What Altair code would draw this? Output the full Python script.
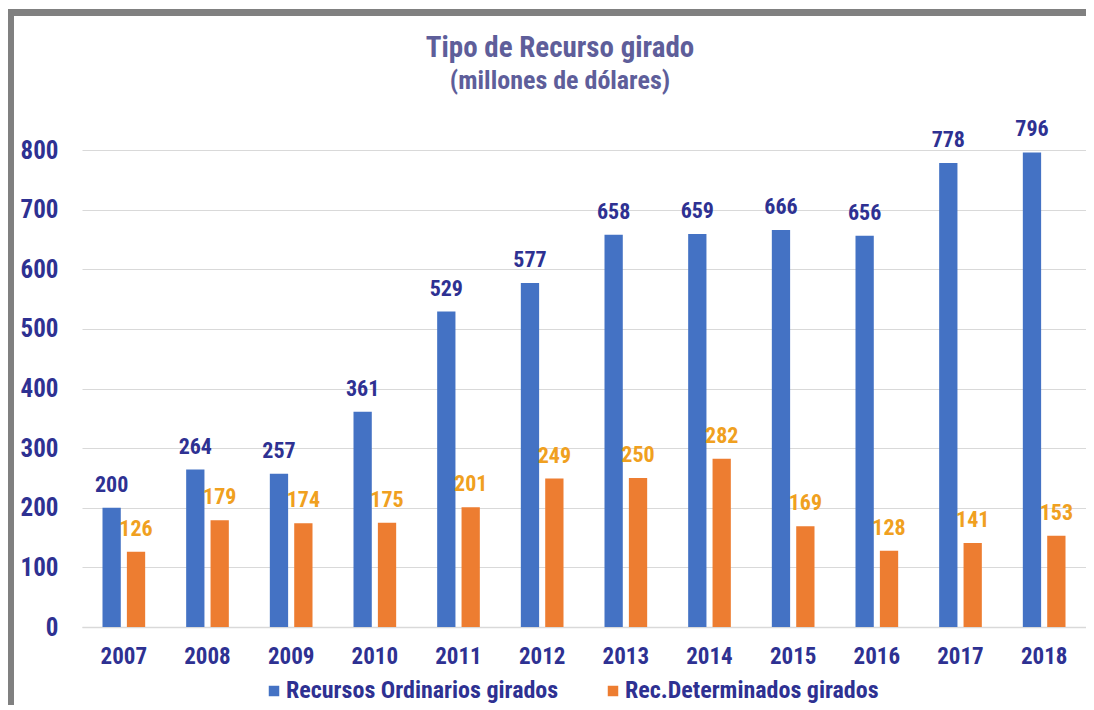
import altair as alt
import pandas as pd

years = ["2007", "2008", "2009", "2010", "2011", "2012", "2013", "2014", "2015", "2016", "2017", "2018"]
ordinarios = [200, 264, 257, 361, 529, 577, 658, 659, 666, 656, 778, 796]
determinados = [126, 179, 174, 175, 201, 249, 250, 282, 169, 128, 141, 153]
series = ["Recursos Ordinarios girados", "Rec.Determinados girados"]
y_ticks = [0, 100, 200, 300, 400, 500, 600, 700, 800]

rows = []
for i, yr in enumerate(years):
    rows.append({"year": yr, "serie": series[0], "value": ordinarios[i], "order": 0})
    rows.append({"year": yr, "serie": series[1], "value": determinados[i], "order": 1})
df = pd.DataFrame(rows)

FONT = "Liberation Sans Narrow, Arial Narrow, Roboto Condensed, Liberation Sans, sans-serif"
NAVY = "#2E3192"
BLUE = "#4472C4"
ORANGE = "#ED7D31"
ORANGE_TXT = "#F0A020"
TITLE_C = "#5E5E9A"
W, H = 1004, 477

x = alt.X("year:N", sort=years, title=None,
          scale=alt.Scale(paddingInner=0.49, paddingOuter=0.245),
          axis=alt.Axis(labelAngle=0, labelFont=FONT, labelFontSize=23, labelFontWeight="bold",
                        labelColor=NAVY, labelPadding=18, ticks=False, domain=True,
                        domainColor="#D9D9D9", domainWidth=1.5))
xo = alt.XOffset("serie:N", sort=series, scale=alt.Scale(paddingInner=0.25, paddingOuter=0))
y = alt.Y("value:Q", title=None,
          scale=alt.Scale(domain=[0, 800], nice=False),
          axis=alt.Axis(values=y_ticks, labelFont=FONT, labelFontSize=25, labelFontWeight="bold",
                        labelColor=NAVY, labelPadding=24, ticks=False, domain=False,
                        grid=True, gridColor="#D9D9D9", gridWidth=1))

base = alt.Chart(df)

bars = base.mark_bar().encode(
    x=x, xOffset=xo, y=y,
    color=alt.Color("serie:N", sort=series, title=None,
                    scale=alt.Scale(domain=series, range=[BLUE, ORANGE]),
                    legend=alt.Legend(orient="none", legendX=180, legendY=529, direction="horizontal",
                                      columns=2, columnPadding=42, symbolType="square",
                                      symbolSize=110, symbolStrokeWidth=0, labelFont=FONT,
                                      labelFontSize=24, labelFontWeight="bold", labelColor=NAVY,
                                      labelOffset=0, labelLimit=400)),
)

labels = base.mark_text(baseline="bottom", dy=-11, font=FONT, fontSize=22, fontWeight="bold").encode(
    x=x, xOffset=xo, y=y,
    text=alt.Text("value:Q"),
    color=alt.Color("serie:N", sort=series, scale=alt.Scale(domain=series, range=[NAVY, ORANGE_TXT]),
                    legend=None),
)

frame = alt.Chart(alt.Data(values=[{"a": 1}])).mark_rect(
    fill=None, filled=False, stroke="#808080", strokeWidth=7
).encode(
    x=alt.value(-71.5), x2=alt.value(W + 60),
    y=alt.value(-137.5), y2=alt.value(H + 200),
)

chart = alt.layer(bars, labels, frame).resolve_scale(color="independent").properties(
    width=W, height=H,
    autosize=alt.AutoSizeParams(type="none"),
    padding={"left": 74, "top": 142, "right": 0, "bottom": 78},
    title=alt.TitleParams(
        text="Tipo de Recurso girado",
        subtitle="(millones de dólares)",
        font=FONT, fontSize=29, fontWeight="bold", color=TITLE_C,
        subtitleFont=FONT, subtitleFontSize=26, subtitleFontWeight="bold", subtitleColor=TITLE_C,
        subtitlePadding=5, anchor="middle", frame="group", dx=-24, offset=-85,
    ),
).configure_view(stroke=None)

chart.save("out.html", embed_options={"renderer": "svg", "actions": False})
